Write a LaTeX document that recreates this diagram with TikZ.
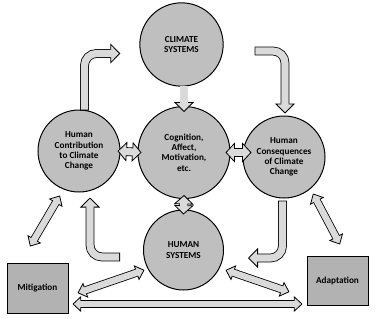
\documentclass[tikz,border=0pt]{standalone}
\usepackage{fontspec}
\setmainfont{Carlito}
\usepackage{xcolor}
\usepackage{tikz}
\usetikzlibrary{arrows.meta,calc}

\definecolor{circlefill}{RGB}{191,191,191}
\definecolor{boxfill}{RGB}{178,178,178}
\definecolor{arrowfill}{RGB}{218,218,218}

\tikzset{
  sysnode/.style={circle, draw=black, line width=0.75pt, fill=circlefill, align=center, inner sep=0pt,
    font=\bfseries\fontsize{6.9}{7.8}\selectfont},
  boxnode/.style={rectangle, draw=black, line width=0.75pt, fill=boxfill, align=center, inner sep=0pt,
    minimum width=45.75pt, font=\bfseries\fontsize{6.9}{7.8}\selectfont},
  blockarrow/.style={draw=arrowfill, line width=5.4pt, shorten <=0.6pt, shorten >=5pt, rounded corners=9,
    preaction={draw=black, line width=6.6pt, shorten <=0pt, shorten >=0pt,
      -{Triangle[length=7.5pt, width=15pt, line width=0.6pt, color=black, fill=arrowfill]}}},
  dblarrow/.style={draw=arrowfill, line width=5.4pt, shorten <=5pt, shorten >=5pt,
    preaction={draw=black, line width=6.6pt, shorten <=0pt, shorten >=0pt,
      {Triangle[length=7pt, width=15pt, line width=0.6pt, color=black, fill=arrowfill]}-{Triangle[length=7pt, width=15pt, line width=0.6pt, color=black, fill=arrowfill]}}},
  lowarrow/.style={draw=arrowfill, line width=4.8pt, shorten <=4.2pt, shorten >=4.2pt,
    preaction={draw=black, line width=6pt, shorten <=0pt, shorten >=0pt,
      {Triangle[length=6.5pt, width=12pt, line width=0.6pt, color=black, fill=arrowfill]}-{Triangle[length=6.5pt, width=12pt, line width=0.6pt, color=black, fill=arrowfill]}}},
}

\begin{document}
\begin{tikzpicture}[x=0.75pt,y=0.75pt,yscale=-1,xscale=1]
\useasboundingbox (0,0) rectangle (378,318);

%Shape: Circle [climate]
\node [sysnode, minimum size=62.5pt] (clim) at (181.5,44.5) {CLIMATE\\SYSTEMS};
%Shape: Circle [cognition]
\node [sysnode, minimum size=69pt] (cog) at (184,152.5) {Cognition,\\Affect,\\Motivation,\\etc.};
%Shape: Circle [contribution]
\node [sysnode, minimum size=61.5pt] (contrib) at (79,151) {Human\\Contribution\\to Climate\\Change};
%Shape: Circle [consequences]
\node [sysnode, minimum size=61.5pt] (conseq) at (284,157) {Human\\Consequences\\of Climate\\Change};
%Shape: Circle [human systems]
\node [sysnode, minimum size=60pt] (hsys) at (183.5,250) {HUMAN\\SYSTEMS};

%Shape: Rectangle [mitigation]
\node [boxnode, minimum height=37.5pt] (mitig) at (37.5,288) {Mitigation};
%Shape: Rectangle [adaptation]
\node [boxnode, minimum height=36.75pt] (adapt) at (337.5,280.5) {Adaptation};

%Curve Lines [contribution to climate]
\draw [blockarrow] ($(contrib.north)+(5.5,1)$) |- ($(clim.west)+(-19,9)$);
%Curve Lines [climate to consequences]
\draw [blockarrow] ($(clim.east)+(31,6.5)$) -| ($(conseq.north)+(1,-2)$);
%Curve Lines [human systems to contribution]
\draw [blockarrow] ($(hsys.west)+(-23,7)$) -| ($(contrib.south)+(11,5)$);
%Curve Lines [consequences to human systems]
\draw [blockarrow] ($(conseq.south)+(-1.5,2)$) |- ($(hsys.east)+(24,8)$);

%Straight Lines [climate to cognition]
\draw [blockarrow] ($(cog.north |- clim.south)+(0,-1)$) -- ($(cog.north)+(0,6)$);
%Straight Lines
\draw [dblarrow] ($(contrib.east)+(-3,0)$) -- ($(cog.west)+(4,0)$);
\draw [dblarrow] ($(cog.east)+(-5,0)$) -- ($(cog.east -| conseq.west)+(9,0)$);
\draw [dblarrow] ($(cog.south)+(0,-4)$) -- ($(hsys.north)+(0,5)$);

%Straight Lines [lower part]
\draw [lowarrow] ($(mitig.north)+(-7.5,-16)$) -- ($(contrib.south)+(-19,3)$);
\draw [lowarrow] ($(conseq.south)+(29,-5)$) -- ($(adapt.north)+(2.5,-11)$);
\draw [lowarrow] ($(mitig.east)+(9,5)$) -- ($(hsys.west)+(1.5,20)$);
\draw [lowarrow] ($(hsys.east)+(1.5,20)$) -- ($(adapt.west)+(-17,11.5)$);
\draw [lowarrow] ($(mitig.east)+(4,16)$) -- ($(adapt.west)+(-4,23.5)$);

\end{tikzpicture}
\end{document}
